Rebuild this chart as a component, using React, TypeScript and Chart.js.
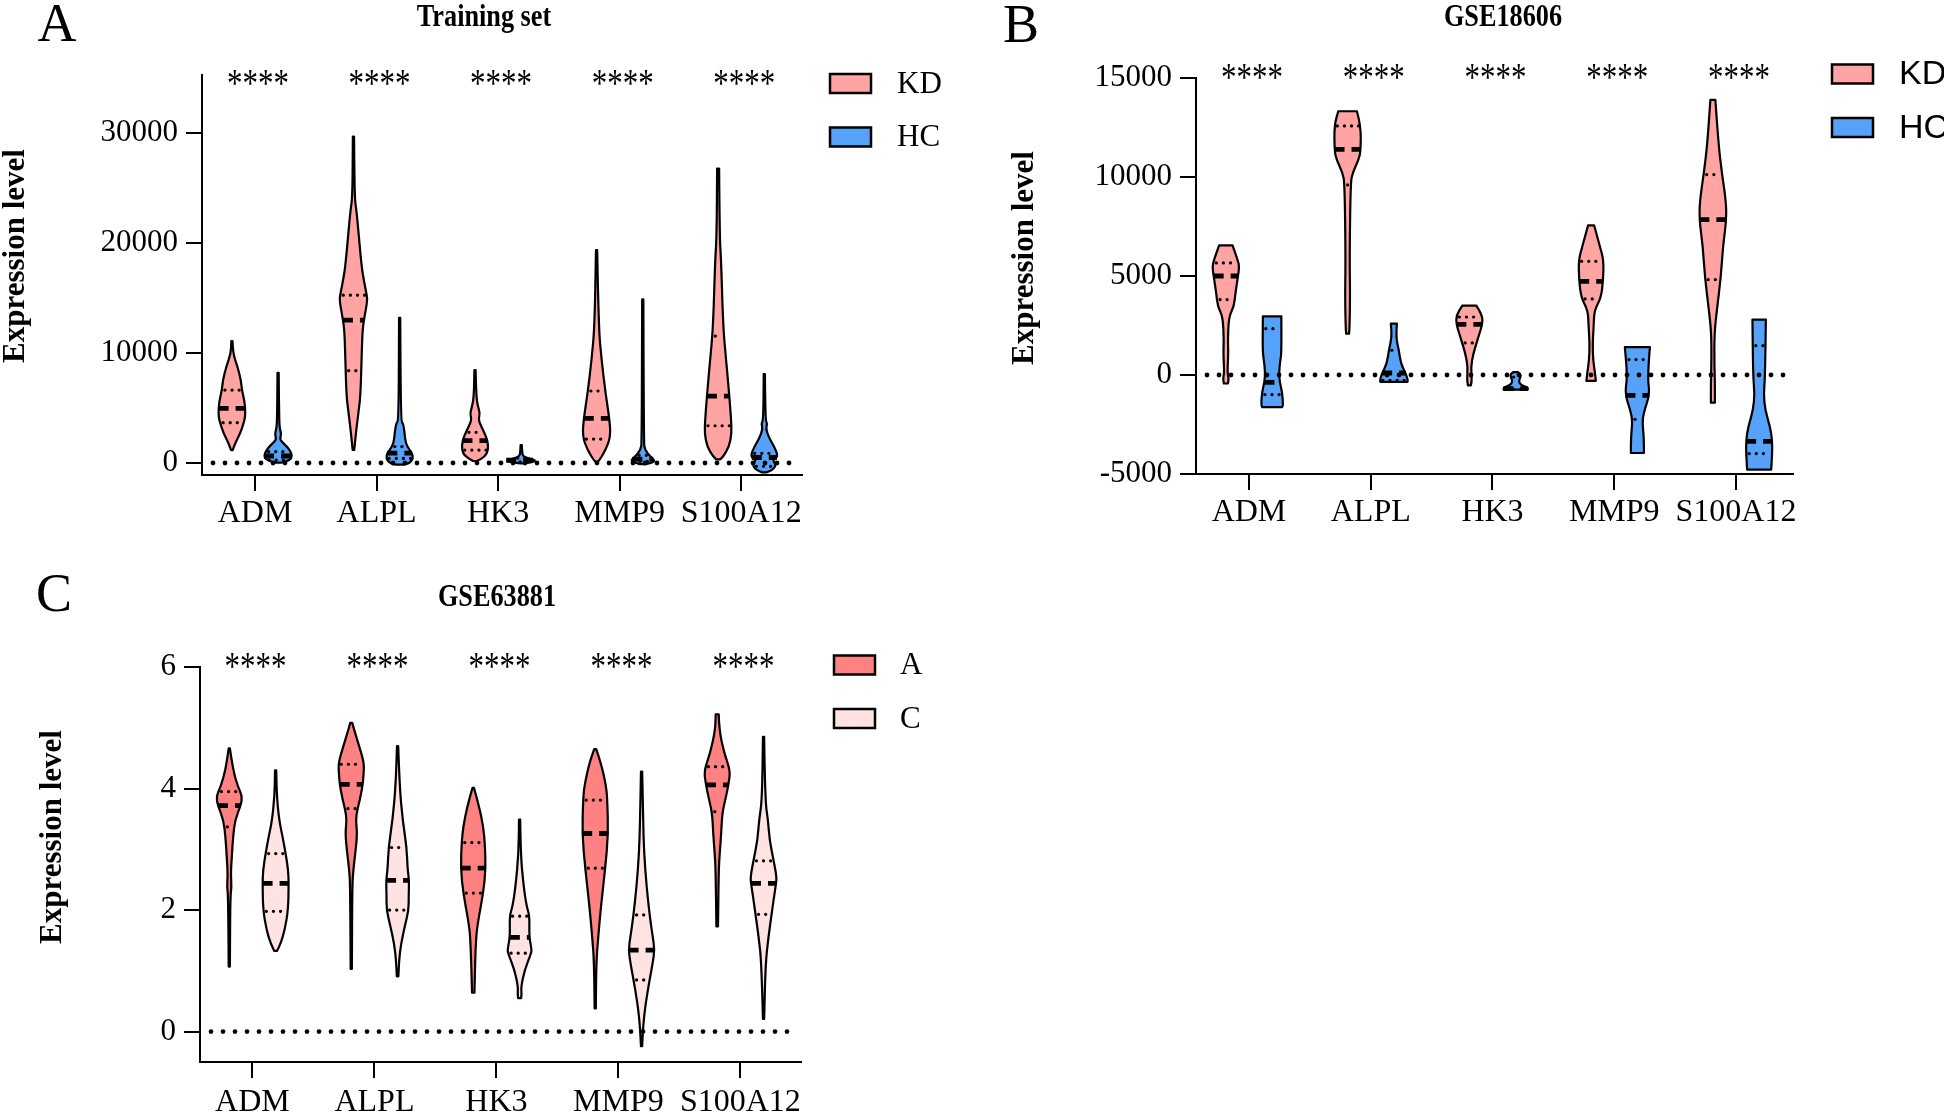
import React, { useEffect, useRef } from "react";
import { Chart, registerables } from "chart.js";

Chart.register(...registerables);

// ---------------- data ----------------
const genes = ["ADM", "ALPL", "HK3", "MMP9", "S100A12"];
const significance = ["****", "****", "****", "****", "****"];

const trainTicks = [0, 10000, 20000, 30000];
const gse18606Ticks = [-5000, 0, 5000, 10000, 15000];
const gse63881Ticks = [0, 2, 4, 6];

// violin profiles: [value, density (half width)]
const trainKDProfiles = [
  [[11100, 0.6], [9970, 1], [8750, 5.7], [7550, 9], [6640, 10], [5730, 12.3], [4970, 13.3], [4210, 13.3], [3610, 11.7], [2700, 8.3], [1790, 3.3], [1180, 0.8]],
  [[29700, 0.6], [24200, 1], [23000, 3], [21000, 5], [18000, 8], [16800, 10], [15400, 13], [14800, 14], [13300, 11], [12100, 9], [9100, 8], [6100, 7], [4600, 5], [3150, 3], [1200, 0.8]],
  [[8450, 0.6], [6030, 1.2], [5120, 3], [4515, 5], [3909, 3.3], [3000, 8], [2090, 12.5], [1182, 13.3], [576, 10], [182, 2]],
  [[19360, 0.6], [12400, 2], [9360, 5], [6330, 9], [3910, 13], [2390, 14], [1180, 9], [270, 3], [110, 1]],
  [[26790, 1], [20570, 1.5], [18450, 3], [12390, 5], [9360, 8], [6330, 11], [3910, 13], [2700, 13.5], [1490, 11], [580, 5], [330, 2]],
];
const trainKDMedian = [4970, 13000, 2030, 4060, 6090];
const trainKDQ1 = [3670, 8400, 1182, 2180, 3390];
const trainKDQ3 = [6640, 15270, 2790, 6550, 11550];

const trainHCProfiles = [
  [[8210, 0.6], [3760, 1], [3000, 2], [2700, 3], [2400, 2.5], [2090, 2], [1490, 9], [1030, 12.5], [640, 14], [270, 12], [30, 3]],
  [[13210, 0.6], [3910, 1], [3610, 3.5], [2700, 5], [1790, 6], [1180, 10], [880, 12.5], [420, 13.5], [0, 10], [-150, 4]],
  [[1640, 0.6], [900, 1], [600, 2], [400, 8], [250, 15], [50, 10], [-30, 1]],
  [[14880, 0.6], [2000, 1], [1180, 2], [560, 8], [120, 13], [-100, 3]],
  [[8090, 0.6], [3900, 1], [3600, 3], [3100, 1.5], [2240, 5], [1490, 10], [576, 14], [273, 8], [-180, 12], [-650, 8], [-850, 2]],
];
const trainHCMedian = [640, 900, 250, 350, 500];
const trainHCQ1 = [270, 420, 100, 150, -300];
const trainHCQ3 = [1030, 1500, 450, 700, 880];

const gse18606KDProfiles = [
  [[6550, 6.7], [5790, 12], [5460, 13.5], [4950, 12], [4100, 9.5], [3440, 8], [2940, 3], [1760, 2], [1090, 2.5], [80, 1.5], [-170, 3], [-430, 2]],
  [[13320, 9.3], [12600, 13.3], [11300, 13], [10880, 11], [10200, 5], [9710, 3], [6000, 2], [4000, 2.5], [2500, 2], [2090, 1.5]],
  [[3500, 7], [3020, 13], [2560, 13], [2090, 10], [1580, 7], [1080, 4], [400, 1.5], [-270, 2.5], [-520, 1.5]],
  [[7560, 3], [6460, 9], [5790, 12.5], [4780, 12], [3940, 10], [3430, 5], [3090, 3], [2420, 2.5], [1580, 1.5], [740, 2], [60, 4], [-300, 4.7]],
  [[13900, 2.5], [11690, 5.5], [10180, 9], [8830, 13], [7850, 13.5], [6470, 10], [4960, 8], [3280, 4], [2100, 1.5], [500, 1.5], [-270, 2], [-1400, 2]],
];
const gse18606KDMedian = [5000, 11400, 2560, 4730, 7850];
const gse18606KDQ1 = [3810, 9600, 1620, 3840, 4820];
const gse18606KDQ3 = [5660, 12580, 2930, 5740, 10120];

const gse18606HCProfiles = [
  [[2960, 9.2], [1180, 9.5], [670, 8], [170, 7], [-340, 7.5], [-840, 10], [-1520, 11], [-1620, 10]],
  [[2590, 3], [1920, 2], [1250, 5], [570, 7], [70, 12], [-270, 14], [-350, 13.5]],
  [[150, 2], [50, 5], [-100, 5], [-300, 3], [-500, 5], [-650, 12.5], [-740, 12]],
  [[1410, 12.5], [-100, 10], [-940, 12.5], [-1950, 6], [-2460, 5], [-3130, 6.5], [-3940, 6.5]],
  [[2800, 6.7], [-90, 6], [-940, 4.5], [-1780, 6], [-2630, 11], [-3300, 13], [-3970, 13], [-4780, 12]],
];
const gse18606HCMedian = [-370, 100, -690, -1030, -3350];
const gse18606HCQ1 = [-990, -270, -720, -2240, -3970];
const gse18606HCQ3 = [2340, 1250, -100, 780, 1480];

const gse63881AProfiles = [
  [[4.66, 0.6], [4.3, 3.8], [4.03, 8.6], [3.87, 13], [3.73, 11.5], [3.48, 5.7], [3.2, 3.8], [2.93, 2.7], [2.6, 1.5], [2.38, 2.3], [2.22, 1], [1.07, 0.6]],
  [[5.08, 1], [4.96, 3], [4.69, 8], [4.41, 13], [4.19, 12], [4.07, 11.5], [3.81, 8.5], [3.65, 6], [3.48, 4.5], [3.26, 6], [2.93, 4], [2.66, 2], [2.38, 1], [1.03, 0.6]],
  [[4.01, 0.8], [3.7, 6], [3.37, 10], [3.11, 11.5], [2.69, 12.5], [2.28, 10], [1.84, 5], [1.51, 2.5], [0.64, 1.2]],
  [[4.65, 1], [4.41, 6], [4.03, 11], [3.81, 12], [3.26, 13], [2.69, 10], [2.11, 6], [1.56, 3], [1.12, 1], [0.38, 0.6]],
  [[5.22, 1.5], [4.96, 2], [4.58, 7], [4.3, 13], [4.08, 11.5], [3.81, 8], [3.59, 5], [3.26, 4], [2.93, 2.5], [2.66, 1.5], [1.73, 0.8]],
];
const gse63881AMedian = [3.72, 4.07, 2.69, 3.26, 4.06];
const gse63881AQ1 = [3.37, 3.67, 2.28, 2.69, 3.62];
const gse63881AQ3 = [3.95, 4.4, 3.11, 3.81, 4.36];

const gse63881CProfiles = [
  [[4.3, 0.6], [3.9, 1], [3.48, 3.5], [3.2, 7], [2.93, 10], [2.66, 12.5], [2.44, 13], [2.0, 12.5], [1.67, 9], [1.45, 5], [1.33, 1.5]],
  [[4.7, 0.6], [4.03, 2], [3.48, 5], [3.04, 9], [2.66, 10], [2.49, 11.5], [2.22, 11], [2.0, 11], [1.72, 7], [1.45, 3.5], [1.18, 1.5], [0.91, 0.8]],
  [[3.49, 0.6], [2.93, 1], [2.39, 4], [2.06, 7], [1.9, 10], [1.57, 9.5], [1.35, 12], [1.29, 11.5], [1.01, 5], [0.74, 1.5], [0.62, 2], [0.55, 1.5]],
  [[4.28, 0.6], [3.48, 1.5], [2.93, 2.5], [2.39, 5], [1.92, 8], [1.57, 11], [1.35, 13], [1.12, 11], [0.85, 8], [0.46, 4], [0.08, 1.5], [-0.24, 0.6]],
  [[4.85, 0.6], [3.81, 1.5], [3.48, 4.5], [3.15, 6], [2.82, 10], [2.55, 13], [2.44, 12.5], [2.17, 10], [1.93, 8], [1.57, 5], [1.13, 2], [0.21, 0.6]],
];
const gse63881CMedian = [2.44, 2.49, 1.55, 1.34, 2.44];
const gse63881CQ1 = [1.98, 2.0, 1.29, 0.85, 1.93];
const gse63881CQ3 = [2.93, 3.03, 1.9, 1.92, 2.81];

// ---------------- styles ----------------
const KD_COLOR = "#FFA4A2";
const HC_COLOR = "#55A2F8";
const A_COLOR = "#FF8282";
const C_COLOR = "#FFE2E2";
const SERIF = '"Liberation Serif", "Times New Roman", serif';
const SANS = '"Liberation Sans", Arial, sans-serif';
const WIDTH_PER_DENSITY = 1 / 121.5; // category units per density unit
const GROUP_OFFSET = 0.19;

type Group = { label: string; color: string; offset: number; profiles: number[][][]; median: number[]; q1: number[]; q3: number[] };

const panels = [
  {
    letter: "A", title: "Training set", left: 0, top: 0, width: 972, height: 556,
    padding: { left: 82, right: 170, top: 75, bottom: 21 }, yWidth: 120, xHeight: 60, xPad: 3,
    xMin: 0.564, xMax: 5.5, yMin: -1090, yMax: 35300, yTicks: trainTicks,
    letterPos: [57, 41], titlePos: [484, 25.5], yTitlePos: [16, 256], sigBaseDy: 21,
    legendBoxX: 830, legendTextX: 897, legendRows: [83.5, 137], legendFont: SERIF, legendSize: 31,
    groups: [
      { label: "KD", color: KD_COLOR, offset: -GROUP_OFFSET, profiles: trainKDProfiles, median: trainKDMedian, q1: trainKDQ1, q3: trainKDQ3 },
      { label: "HC", color: HC_COLOR, offset: GROUP_OFFSET, profiles: trainHCProfiles, median: trainHCMedian, q1: trainHCQ1, q3: trainHCQ3 },
    ] as Group[],
  },
  {
    letter: "B", title: "GSE18606", left: 972, top: 0, width: 972, height: 556,
    padding: { left: 104, right: 151, top: 78, bottom: 22 }, yWidth: 120, xHeight: 60, xPad: 3,
    xMin: 0.565, xMax: 5.468, yMin: -5000, yMax: 15000, yTicks: gse18606Ticks,
    letterPos: [49, 41.5], titlePos: [531, 26], yTitlePos: [52.5, 258], sigBaseDy: 12,
    legendBoxX: 860, legendTextX: 927, legendRows: [74, 127.5], legendFont: SANS, legendSize: 34,
    groups: [
      { label: "KD", color: KD_COLOR, offset: -GROUP_OFFSET, profiles: gse18606KDProfiles, median: gse18606KDMedian, q1: gse18606KDQ1, q3: gse18606KDQ3 },
      { label: "HC", color: HC_COLOR, offset: GROUP_OFFSET, profiles: gse18606HCProfiles, median: gse18606HCMedian, q1: gse18606HCQ1, q3: gse18606HCQ3 },
    ] as Group[],
  },
  {
    letter: "C", title: "GSE63881", left: 0, top: 556, width: 972, height: 557,
    padding: { left: 80, right: 171, top: 111, bottom: 0 }, yWidth: 120, xHeight: 51, xPad: 5,
    xMin: 0.57, xMax: 5.497, yMin: -0.5, yMax: 6, yTicks: gse63881Ticks,
    letterPos: [54, 55], titlePos: [497, 50], yTitlePos: [53, 281], sigBaseDy: 12,
    legendBoxX: 834, legendTextX: 900, legendRows: [109, 162.5], legendFont: SERIF, legendSize: 31,
    groups: [
      { label: "A", color: A_COLOR, offset: -GROUP_OFFSET, profiles: gse63881AProfiles, median: gse63881AMedian, q1: gse63881AQ1, q3: gse63881AQ3 },
      { label: "C", color: C_COLOR, offset: GROUP_OFFSET, profiles: gse63881CProfiles, median: gse63881CMedian, q1: gse63881CQ1, q3: gse63881CQ3 },
    ] as Group[],
  },
];

// ---------------- drawing helpers ----------------
function densityAt(profile: number[][], v: number) {
  for (let i = 0; i < profile.length - 1; i++) {
    const [v0, d0] = profile[i];
    const [v1, d1] = profile[i + 1];
    if (v <= v0 && v >= v1) {
      const t = v0 === v1 ? 0 : (v0 - v) / (v0 - v1);
      return d0 + (d1 - d0) * t;
    }
  }
  return 0;
}

function drawViolin(ctx: CanvasRenderingContext2D, xs: any, ys: any, center: number, profile: number[][], median: number, q1: number, q3: number, color: string) {
  const cx = xs.getPixelForValue(center);
  const half = (d: number) => xs.getPixelForValue(center + d * WIDTH_PER_DENSITY) - cx;
  const pts = profile.map(([v, d]) => ({ y: ys.getPixelForValue(v), w: half(d) }));
  const n = pts.length;
  ctx.beginPath();
  ctx.moveTo(cx + pts[0].w, pts[0].y);
  for (let i = 1; i < n - 1; i++) {
    const mx = cx + (pts[i].w + pts[i + 1].w) / 2;
    const my = (pts[i].y + pts[i + 1].y) / 2;
    ctx.quadraticCurveTo(cx + pts[i].w, pts[i].y, mx, my);
  }
  ctx.lineTo(cx + pts[n - 1].w, pts[n - 1].y);
  ctx.lineTo(cx - pts[n - 1].w, pts[n - 1].y);
  for (let i = n - 2; i >= 1; i--) {
    const mx = cx - (pts[i].w + pts[i - 1].w) / 2;
    const my = (pts[i].y + pts[i - 1].y) / 2;
    ctx.quadraticCurveTo(cx - pts[i].w, pts[i].y, mx, my);
  }
  ctx.lineTo(cx - pts[0].w, pts[0].y);
  ctx.closePath();
  ctx.fillStyle = color;
  ctx.fill();
  ctx.setLineDash([]);
  ctx.lineWidth = 2.2;
  ctx.lineJoin = "round";
  ctx.strokeStyle = "#000";
  ctx.stroke();

  // median: thick dashes
  const mw = half(densityAt(profile, median));
  const my = ys.getPixelForValue(median);
  ctx.beginPath();
  ctx.lineCap = "butt";
  ctx.setLineDash([10, 7]);
  ctx.lineWidth = 4.8;
  ctx.moveTo(cx - mw, my);
  ctx.lineTo(cx + mw, my);
  ctx.stroke();

  // quartiles: dotted
  [q1, q3].forEach((q) => {
    const qw = half(densityAt(profile, q));
    const qy = ys.getPixelForValue(q);
    ctx.beginPath();
    ctx.lineCap = "round";
    ctx.setLineDash([0.1, 7]);
    ctx.lineWidth = 3.2;
    ctx.moveTo(cx - qw + 3, qy);
    ctx.lineTo(cx + qw - 2, qy);
    ctx.stroke();
  });
  ctx.setLineDash([]);
}

function makePanelPlugin(p: any) {
  return {
    id: "panel" + p.letter,
    afterDatasetsDraw(chart: any) {
      const { ctx, chartArea, scales } = chart;
      const xs = scales.x;
      const ys = scales.y;
      ctx.save();
      genes.forEach((_g, i) => {
        p.groups.forEach((g: Group) => {
          drawViolin(ctx, xs, ys, i + 1 + g.offset, g.profiles[i], g.median[i], g.q1[i], g.q3[i], g.color);
        });
      });
      // dotted zero line
      const y0 = ys.getPixelForValue(0);
      ctx.beginPath();
      ctx.setLineDash([0, 12]);
      ctx.lineCap = "round";
      ctx.lineWidth = 4.8;
      ctx.strokeStyle = "#000";
      ctx.moveTo(chartArea.left + 11, y0);
      ctx.lineTo(chartArea.right - 8, y0);
      ctx.stroke();
      ctx.setLineDash([]);
      ctx.restore();
    },
    afterDraw(chart: any) {
      const { ctx, chartArea, scales } = chart;
      const xs = scales.x;
      ctx.save();
      ctx.fillStyle = "#000";
      // panel letter
      ctx.font = `54px ${SERIF}`;
      ctx.textAlign = "center";
      ctx.textBaseline = "alphabetic";
      ctx.fillText(p.letter, p.letterPos[0], p.letterPos[1]);
      // title (condensed bold)
      ctx.save();
      ctx.translate(p.titlePos[0], p.titlePos[1]);
      ctx.scale(0.82, 1);
      ctx.font = `bold 32px ${SERIF}`;
      ctx.fillText(p.title, 0, 0);
      ctx.restore();
      // y title
      ctx.save();
      ctx.translate(p.yTitlePos[0], p.yTitlePos[1]);
      ctx.rotate(-Math.PI / 2);
      ctx.font = `bold 31px ${SERIF}`;
      ctx.textBaseline = "middle";
      ctx.fillText("Expression level", 0, 0);
      ctx.restore();
      // significance
      ctx.font = `31px ${SERIF}`;
      ctx.textBaseline = "alphabetic";
      significance.forEach((s, i) => {
        ctx.save();
        ctx.translate(xs.getPixelForValue(i + 1) + 3, chartArea.top + p.sigBaseDy);
        ctx.scale(1, 1.3);
        ctx.fillText(s, 0, 0);
        ctx.restore();
      });
      // legend
      p.groups.forEach((g: Group, k: number) => {
        const cy = p.legendRows[k];
        ctx.fillStyle = g.color;
        ctx.fillRect(p.legendBoxX, cy - 9.5, 41, 19);
        ctx.lineWidth = 2.5;
        ctx.strokeStyle = "#000";
        ctx.strokeRect(p.legendBoxX, cy - 9.5, 41, 19);
        ctx.fillStyle = "#000";
        ctx.font = `${p.legendSize}px ${p.legendFont}`;
        ctx.textAlign = "left";
        ctx.textBaseline = "middle";
        ctx.fillText(g.label, p.legendTextX, cy + 1);
      });
      ctx.restore();
    },
  };
}

function buildConfig(p: any) {
  return {
    type: "scatter",
    data: {
      datasets: p.groups.map((g: Group) => ({
        label: g.label,
        data: g.median.map((m: number, i: number) => ({ x: i + 1 + g.offset, y: m })),
        pointRadius: 0,
        backgroundColor: g.color,
      })),
    },
    options: {
      animation: false,
      responsive: false,
      maintainAspectRatio: false,
      devicePixelRatio: 1,
      events: [],
      layout: { padding: p.padding },
      plugins: { legend: { display: false }, title: { display: false }, tooltip: { enabled: false } },
      scales: {
        x: {
          type: "linear",
          min: p.xMin,
          max: p.xMax,
          afterBuildTicks: (s: any) => {
            s.ticks = genes.map((_g, i) => ({ value: i + 1 }));
          },
          afterFit: (s: any) => {
            s.height = p.xHeight;
            s.paddingLeft = 0;
            s.paddingRight = 0;
          },
          ticks: {
            callback: (v: any) => genes[Math.round(v) - 1],
            color: "#000",
            font: { family: SERIF, size: 32 },
            padding: p.xPad,
            maxRotation: 0,
            autoSkip: false,
          },
          grid: { drawOnChartArea: false, drawTicks: true, tickLength: 16, color: "#000", lineWidth: 2 },
          border: { display: true, color: "#000", width: 2 },
        },
        y: {
          type: "linear",
          min: p.yMin,
          max: p.yMax,
          afterBuildTicks: (s: any) => {
            s.ticks = p.yTicks.map((v: number) => ({ value: v }));
          },
          afterFit: (s: any) => {
            s.width = p.yWidth;
            s.paddingTop = 0;
            s.paddingBottom = 0;
          },
          ticks: {
            callback: (v: any) => String(v),
            color: "#000",
            font: { family: SERIF, size: 31 },
            padding: 8,
            autoSkip: false,
          },
          grid: { drawOnChartArea: false, drawTicks: true, tickLength: 16, color: "#000", lineWidth: 2 },
          border: { display: true, color: "#000", width: 2 },
        },
      },
    },
    plugins: [makePanelPlugin(p)],
  };
}

export default function App() {
  const refA = useRef<HTMLCanvasElement>(null);
  const refB = useRef<HTMLCanvasElement>(null);
  const refC = useRef<HTMLCanvasElement>(null);
  const refs = [refA, refB, refC];

  useEffect(() => {
    const charts = panels.map((p, i) => new Chart(refs[i].current as HTMLCanvasElement, buildConfig(p) as any));
    return () => charts.forEach((c) => c.destroy());
  }, []);

  return (
    <div style={{ position: "absolute", left: 0, top: 0, width: 1944, height: 1113, background: "#fff", overflow: "hidden" }}>
      {panels.map((p, i) => (
        <canvas
          key={p.letter}
          ref={refs[i]}
          width={p.width}
          height={p.height}
          style={{ position: "absolute", left: p.left, top: p.top, width: p.width, height: p.height }}
        />
      ))}
    </div>
  );
}
